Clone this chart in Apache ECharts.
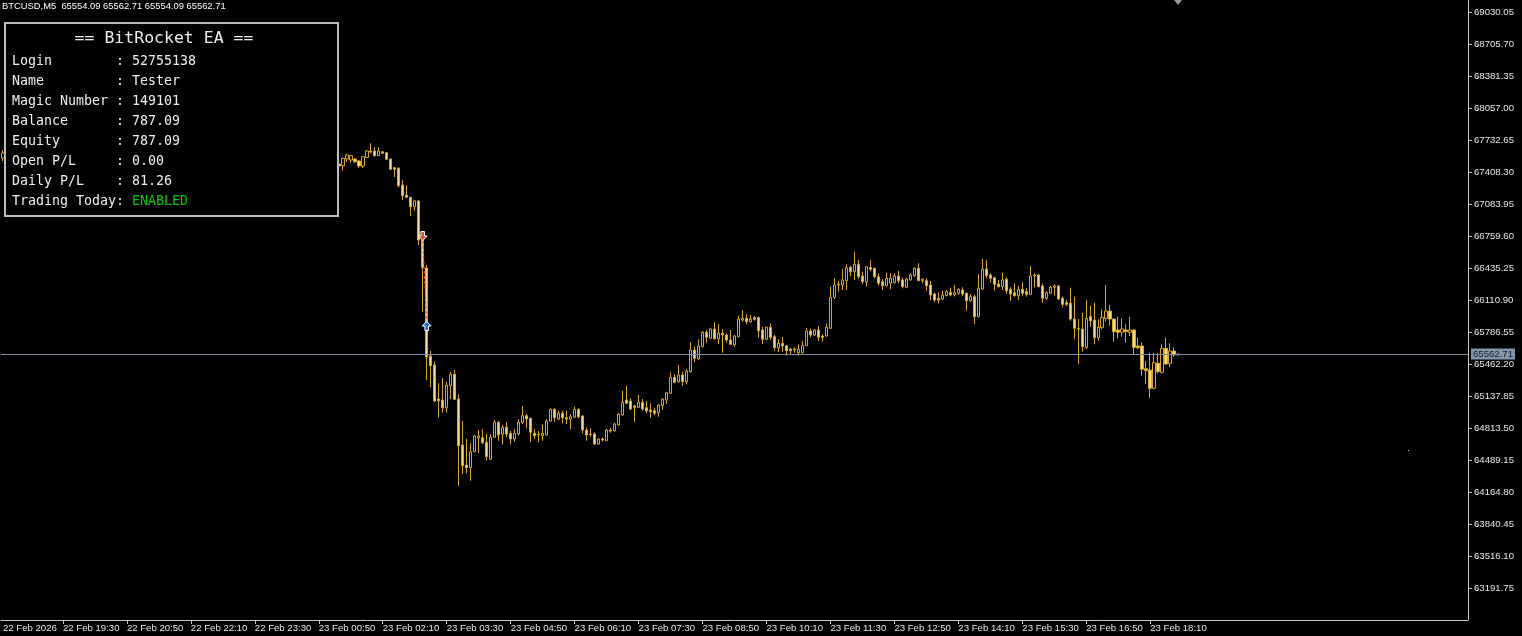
<!DOCTYPE html>
<html><head><meta charset="utf-8">
<script src="https://cdn.jsdelivr.net/npm/echarts@6/dist/echarts.min.js"></script>
<style>html,body{margin:0;padding:0;background:#000;}#c{width:1522px;height:636px;}</style>
</head><body><div id="c"></div>
<script>
// ---------- data ----------
const symbolName = 'BTCUSD';
const timeframe = 'M5';
const slotCount = 367;               // bar slots across the plot (incl. empty shift area)
const xTickLabels = ['22 Feb 2026','22 Feb 19:30','22 Feb 20:50','22 Feb 22:10','22 Feb 23:30',
  '23 Feb 00:50','23 Feb 02:10','23 Feb 03:30','23 Feb 04:50','23 Feb 06:10','23 Feb 07:30',
  '23 Feb 08:50','23 Feb 10:10','23 Feb 11:30','23 Feb 12:50','23 Feb 14:10','23 Feb 15:30',
  '23 Feb 16:50','23 Feb 18:10'];
const xTickFirst = 15, xTickStep = 16;
const yMin = 62867.40, yMax = 69151.68, yStep = 324.35;

// bars are [open, high, low, close]
const firstBar = [67550,67631,67520,67601];
const hiddenBarCount = 83;           // bars hidden behind the info panel (not readable)
const candles = [
[67489,67500,67449,67469],[67472,67555,67422,67547],[67540,67591,67512,67581],[67530,67581,67502,67574],
[67540,67550,67500,67513],[67520,67530,67449,67469],[67469,67571,67449,67563],[67557,67631,67550,67621],
[67621,67699,67598,67611],[67621,67659,67565,67574],[67574,67659,67570,67621],[67614,67621,67591,67598],
[67604,67611,67530,67537],[67540,67545,67434,67436],[67452,67456,67358,67436],[67446,67456,67253,67270],
[67277,67327,67125,67168],[67175,67274,67145,67152],[67152,67155,66962,67057],[67057,67125,67016,67117],
[67114,67125,66668,66719],[66719,66729,65992,66438],[66435,66466,65300,65533],[65543,65594,65226,65445],
[65452,65486,65080,65087],[65107,65267,64918,65090],[65097,65320,64969,65019],[65019,65283,64969,65249],
[65242,65381,65107,65358],[65358,65401,65097,65104],[65107,65155,64229,64634],[64641,64884,64344,64431],
[64439,64702,64354,64411],[64411,64659,64279,64573],[64573,64743,64567,64733],[64715,64793,64560,64733],
[64715,64803,64652,64665],[64669,64753,64482,64523],[64497,64750,64489,64720],[64720,64895,64715,64872],
[64872,64884,64685,64743],[64750,64844,64648,64821],[64821,64872,64720,64753],[64760,64783,64648,64702],
[64702,64803,64675,64760],[64753,64902,64736,64871],[64871,65037,64854,64938],[64938,64955,64811,64905],
[64912,64918,64669,64770],[64760,64803,64702,64736],[64750,64783,64669,64745],[64736,64851,64685,64760],
[64743,64902,64736,64884],[64884,65013,64877,65003],[65003,65013,64877,64918],[64905,64989,64895,64963],
[64963,64989,64861,64918],[64918,64989,64854,64905],[64902,64955,64800,64928],[64922,65029,64918,65003],
[65003,65013,64912,64928],[64935,64945,64760,64793],[64793,64821,64685,64743],[64750,64811,64725,64745],
[64753,64770,64641,64651],[64651,64709,64648,64702],[64702,64720,64675,64692],[64685,64803,64682,64793],
[64793,64816,64765,64783],[64786,64867,64776,64854],[64844,64969,64837,64955],[64945,65189,64938,65074],
[65097,65242,65057,65064],[65087,65115,64996,65006],[65037,65047,64877,65023],[65023,65148,65019,65074],
[65074,65107,64989,65006],[65019,65087,64963,64986],[64996,65064,64918,64979],[64989,65019,64945,64963],
[64969,65057,64928,65047],[65040,65115,64996,65107],[65097,65181,65057,65171],[65165,65378,65158,65327],
[65327,65361,65267,65277],[65283,65452,65273,65351],[65351,65384,65242,65283],[65283,65412,65257,65391],
[65384,65682,65378,65604],[65604,65638,65479,65520],[65513,65713,65503,65645],[65638,65797,65631,65783],
[65783,65807,65678,65733],[65723,65830,65716,65817],[65817,65885,65713,65716],[65716,65865,65665,65773],
[65773,65817,65577,65756],[65756,65773,65682,65705],[65705,65807,65655,65662],[65655,65756,65638,65746],
[65739,65949,65733,65918],[65908,66010,65891,65925],[65925,65966,65865,65891],[65891,65959,65881,65918],
[65931,65949,65901,65915],[65932,65942,65729,65800],[65807,65840,65665,65713],[65713,65840,65705,65834],
[65834,65875,65705,65733],[65739,65756,65597,65627],[65627,65713,65581,65672],[65672,65733,65587,65645],
[65648,65655,65546,65597],[65614,65627,65560,65597],[65607,65631,65577,65617],[65577,65662,65546,65611],
[65577,65695,65571,65648],[65648,65824,65645,65797],[65797,65824,65733,65756],[65756,65817,65746,65807],
[65807,65848,65695,65733],[65746,65763,65688,65733],[65746,65875,65739,65834],[65824,66246,65817,66138],
[66138,66331,66121,66263],[66263,66306,66195,66273],[66263,66425,66212,66314],[66307,66473,66212,66438],
[66442,66456,66354,66398],[66398,66601,66314,66473],[66473,66516,66324,66347],[66354,66398,66274,66297],
[66296,66456,66246,66448],[66442,66516,66401,66422],[66432,66438,66331,66347],[66347,66381,66257,66280],
[66296,66321,66212,66256],[66256,66388,66246,66331],[66280,66381,66222,66331],[66286,66381,66280,66354],
[66354,66405,66280,66306],[66314,66337,66229,66246],[66239,66337,66235,66324],[66314,66381,66307,66364],
[66357,66442,66347,66432],[66432,66483,66303,66307],[66307,66331,66280,66321],[66307,66331,66205,66256],
[66263,66304,66111,66162],[66172,66185,66088,66111],[66128,66189,66077,66111],[66121,66205,66111,66162],
[66157,66212,66147,66195],[66189,66236,66147,66162],[66162,66263,66147,66185],[66179,66229,66162,66219],
[66212,66240,66151,66172],[66179,66185,66002,66104],[66104,66172,66094,66145],[66145,66162,65868,65942],
[65942,66371,65936,66230],[66222,66527,66212,66425],[66425,66516,66331,66357],[66364,66381,66286,66331],
[66337,66347,66205,66270],[66273,66314,66239,66246],[66246,66388,66212,66314],[66321,66341,66172,66205],
[66219,66240,66104,66172],[66185,66280,66145,66155],[66155,66253,66111,66219],[66219,66290,66155,66179],
[66195,66230,66145,66168],[66168,66456,66162,66354],[66354,66381,66239,66364],[66364,66374,66239,66246],
[66253,66280,66083,66128],[66128,66202,66111,66185],[66179,66253,66172,66240],[66240,66270,66155,66253],
[66253,66263,66111,66121],[66128,66145,66037,66067],[66083,66111,66050,66067],[66078,66236,65901,65918],
[65918,66145,65716,65824],[65824,65918,65462,65817],[65817,65982,65587,65638],[65631,66111,65611,65925],
[65942,66053,65840,65898],[65908,66084,65662,65729],[65729,65915,65698,65834],[65831,66019,65814,65932],
[65925,66263,65891,65999],[65999,66060,65851,65918],[65918,65925,65688,65790],[65807,65942,65722,65783],
[65783,65925,65739,65817],[65807,65865,65678,65790],[65783,65942,65746,65807],[65807,65813,65560,65631],
[65645,65729,65614,65627],[65645,65682,65344,65409],[65414,65493,65257,65394],[65401,65577,65121,65216],
[65216,65577,65206,65479],[65469,65571,65364,65384],[65378,65662,65364,65621],[65621,65733,65452,65462],
[65469,65672,65429,65594],[65594,65631,65536,65554],[65554.09,65562.71,65554.09,65562.71]
];
const bidPrice = 65562.71;
const sellEntry = [105, 66759.6];
const buyExit = [106, 65847.4];
const infoTitle = '== BitRocket EA ==';
const infoLabels = ['Login','Name','Magic Number','Balance','Equity','Open P/L','Daily P/L','Trading Today'];
const infoValues = ['52755138','Tester','149101','787.09','787.09','0.00','81.26','ENABLED'];

// ---------- build ----------
const AXF = 'Liberation Sans';
const MONO = 'DejaVu Sans Mono';
const axisCol = '#c8c8c8';
const textCol = '#e6e6e6';

const cats = [];
for (let i = 0; i < slotCount; i++) cats.push(String(i));
const tickLabelAt = {};
tickLabelAt[0] = xTickLabels[0];
for (let j = 1; j < xTickLabels.length; j++) tickLabelAt[xTickFirst + (j - 1) * xTickStep] = xTickLabels[j];

const allBars = [firstBar];
for (let i = 0; i < hiddenBarCount; i++) allBars.push(null);
candles.forEach(b => allBars.push(b));
const kData = allBars.map(b => b ? [b[0], b[3], b[2], b[1]] : ['-', '-', '-', '-']);

const lastBar = candles[candles.length - 1];
const headerText = symbolName + ',' + timeframe + '  ' + lastBar.map(v => v.toFixed(2)).join(' ');

const graphics = [
  { type: 'text', left: 2, top: 2, z: 100, style: { text: headerText, fill: '#ffffff', font: '9.4px ' + AXF } },
  { type: 'rect', shape: { x: 5, y: 23, width: 333, height: 193 }, z: 100,
    style: { fill: '#000', stroke: '#bcbcbc', lineWidth: 2 } },
  { type: 'text', x: 164, y: 39, z: 101,
    style: { text: infoTitle, fill: '#eeeeee', font: '16.5px ' + MONO, textAlign: 'center', textVerticalAlign: 'middle' } }
];
infoLabels.forEach((lab, i) => {
  const isLast = i === infoLabels.length - 1;
  const base = lab.padEnd(13, ' ') + ': ' + (isLast ? '' : infoValues[i]);
  graphics.push({ type: 'text', x: 12, y: 62 + 20 * i, z: 101,
    style: { text: base, fill: '#eeeeee', font: '13.3px ' + MONO, textVerticalAlign: 'middle' } });
  if (isLast) {
    graphics.push({ type: 'text', x: 12 + 15 * 8.0, y: 62 + 20 * i, z: 101,
      style: { text: infoValues[i], fill: '#00cc00', font: '13.3px ' + MONO, textVerticalAlign: 'middle' } });
  }
});
graphics.push({ type: 'polygon', shape: { points: [[1174, 0], [1182, 0], [1178, 5]] }, z: 100, style: { fill: '#9a9a9a' } });
graphics.push({ type: 'rect', shape: { x: 1408, y: 450, width: 1, height: 1 }, z: 100, style: { fill: '#cfcfcf' } });

const downArrow = 'path://M3,0 L7,0 L7,5 L10,5 L5,10 L0,5 L3,5 Z';
const upArrow = 'path://M5,0 L10,5 L7,5 L7,10 L3,10 L3,5 L0,5 Z';

const chart = echarts.init(document.getElementById('c'), null, { renderer: 'canvas' });
chart.setOption({
  backgroundColor: '#000',
  animation: false,
  grid: { left: 0, right: 54, top: 0, bottom: 16, containLabel: false },
  xAxis: {
    type: 'category', data: cats, boundaryGap: true,
    axisLine: { show: true, lineStyle: { color: axisCol, width: 1 } },
    axisTick: { show: true, alignWithLabel: true, length: 4, lineStyle: { color: axisCol },
      interval: (idx) => tickLabelAt[idx] !== undefined && idx !== 0 },
    axisLabel: { show: true, interval: (idx) => tickLabelAt[idx] !== undefined,
      formatter: (v, idx) => tickLabelAt[idx] || '', align: 'left', color: textCol,
      fontFamily: AXF, fontSize: 9.6, margin: 3, hideOverlap: false },
    splitLine: { show: false }
  },
  yAxis: {
    type: 'value', position: 'right', min: yMin, max: yMax, interval: yStep, scale: true,
    axisLine: { show: true, lineStyle: { color: axisCol, width: 1 } },
    axisTick: { show: true, length: 4, lineStyle: { color: axisCol } },
    axisLabel: { color: textCol, fontFamily: AXF, fontSize: 9.6, margin: 6,
      showMinLabel: false, showMaxLabel: false, formatter: v => v.toFixed(2) },
    splitLine: { show: false }
  },
  series: [
    {
      type: 'candlestick', data: kData, barWidth: 3,
      itemStyle: { color: '#000000', color0: '#F5D89A', borderColor: '#DAA520', borderColor0: '#DAA520', borderWidth: 1 },
      markLine: {
        silent: true, symbol: ['none', 'none'], animation: false,
        data: [{ yAxis: bidPrice }],
        lineStyle: { color: '#7b8ea0', type: 'solid', width: 1 },
        label: { show: true, position: 'end', formatter: bidPrice.toFixed(2), distance: 3,
          backgroundColor: '#8196aa', color: '#102030', fontFamily: AXF, fontSize: 9.6, padding: [1, 2, 0, 2] }
      },
      z: 2
    },
    {
      type: 'line', data: [sellEntry, buyExit], symbol: 'none', silent: true,
      lineStyle: { color: '#ff4020', type: [3, 2], width: 1 }, z: 3
    },
    {
      type: 'scatter', data: [sellEntry], symbol: downArrow, symbolSize: [9, 9],
      itemStyle: { color: '#e84a2a', borderColor: '#ffffff', borderWidth: 1, opacity: 1 }, z: 4, silent: true
    },
    {
      type: 'scatter', data: [buyExit], symbol: upArrow, symbolSize: [9, 9],
      itemStyle: { color: '#1e6fd0', borderColor: '#ffffff', borderWidth: 1, opacity: 1 }, z: 4, silent: true
    }
  ],
  graphic: graphics
});
</script>
</body></html>
